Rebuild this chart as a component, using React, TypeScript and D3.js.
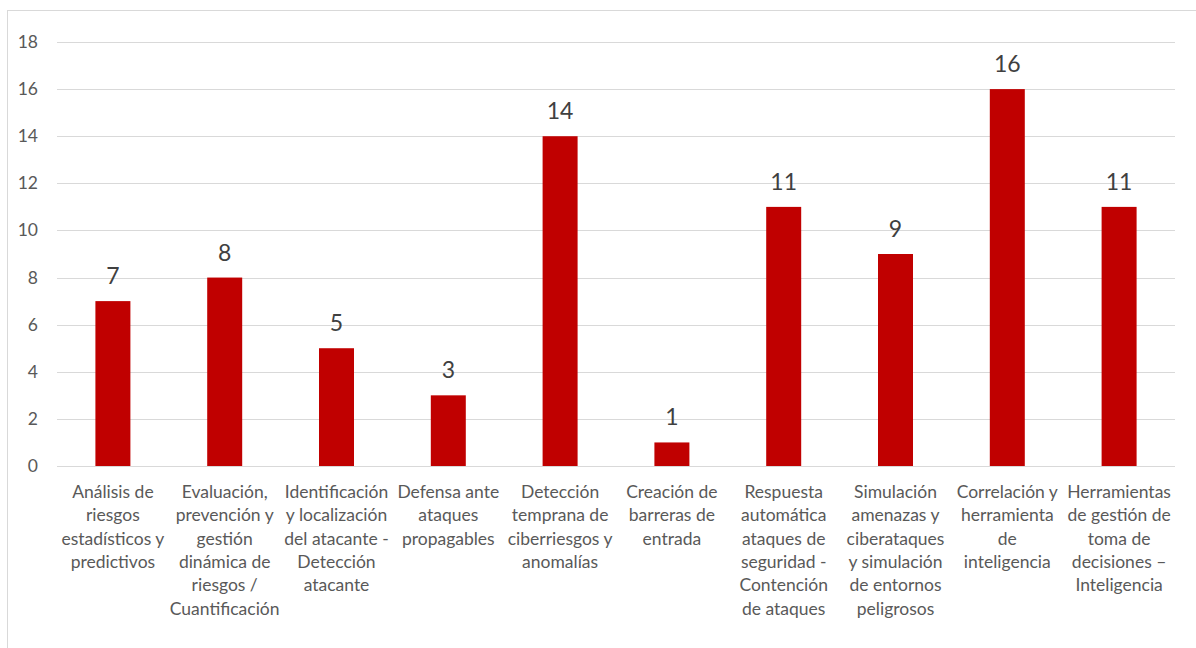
import React from "react";
import * as d3 from "d3";

const categories: string[] = [
  "Análisis de\nriesgos\nestadísticos y\npredictivos",
  "Evaluación,\nprevención y\ngestión\ndinámica de\nriesgos /\nCuantificación",
  "Identificación\ny localización\ndel atacante -\nDetección\natacante",
  "Defensa ante\nataques\npropagables",
  "Detección\ntemprana de\nciberriesgos y\nanomalías",
  "Creación de\nbarreras de\nentrada",
  "Respuesta\nautomática\nataques de\nseguridad -\nContención\nde ataques",
  "Simulación\namenazas y\nciberataques\ny simulación\nde entornos\npeligrosos",
  "Correlación y\nherramienta\nde\ninteligencia",
  "Herramientas\nde gestión de\ntoma de\ndecisiones –\nInteligencia",
];
const values: number[] = [7, 8, 5, 3, 14, 1, 11, 9, 16, 11];
const yTicks: number[] = [0, 2, 4, 6, 8, 10, 12, 14, 16, 18];

export default function App() {
  const W = 1196;
  const H = 648;
  const left = 57;
  const right = 1175;
  const top = 42;
  const bottom = 466;
  const font = "Lato, 'Open Sans', sans-serif";

  const x = d3
    .scaleBand<number>()
    .domain(d3.range(categories.length))
    .range([left, right])
    .paddingInner(0.687)
    .paddingOuter(0.3435);
  const y = d3.scaleLinear().domain([0, 18]).range([bottom, top]);

  return (
    <svg
      width={W}
      height={H}
      style={{ position: "absolute", left: 0, top: 0 }}
    >
      <rect x={0} y={0} width={W} height={H} fill="#fff" />
      <rect
        x={7.5}
        y={10.5}
        width={W}
        height={H}
        fill="none"
        stroke="#d9d9d9"
        strokeWidth={1}
      />
      {yTicks.map((t) => (
        <g key={t}>
          <line
            x1={left}
            x2={right}
            y1={Math.round(y(t)) + 0.5}
            y2={Math.round(y(t)) + 0.5}
            stroke="#d9d9d9"
            strokeWidth={1}
          />
          <text
            x={38}
            y={y(t) + 6}
            textAnchor="end"
            fontFamily={font}
            fontSize={17.5}
            fill="#595959"
          >
            {t}
          </text>
        </g>
      ))}
      {values.map((v, i) => {
        const bx = x(i)!;
        const bw = x.bandwidth();
        return (
          <g key={i}>
            <rect
              x={bx}
              y={y(v)}
              width={bw}
              height={y(0) - y(v)}
              fill="#c00000"
            />
            <text
              x={bx + bw / 2}
              y={y(v) - 17}
              textAnchor="middle"
              fontFamily={font}
              fontSize={23}
              fill="#404040"
            >
              {v}
            </text>
          </g>
        );
      })}
      {categories.map((c, i) => {
        const cx = x(i)! + x.bandwidth() / 2;
        return (
          <text
            key={i}
            x={cx}
            textAnchor="middle"
            fontFamily={font}
            fontSize={17.5}
            fill="#595959"
          >
            {c.split("\n").map((ln, j) => (
              <tspan key={j} x={cx} y={498 + j * 23.3}>
                {ln}
              </tspan>
            ))}
          </text>
        );
      })}
    </svg>
  );
}
